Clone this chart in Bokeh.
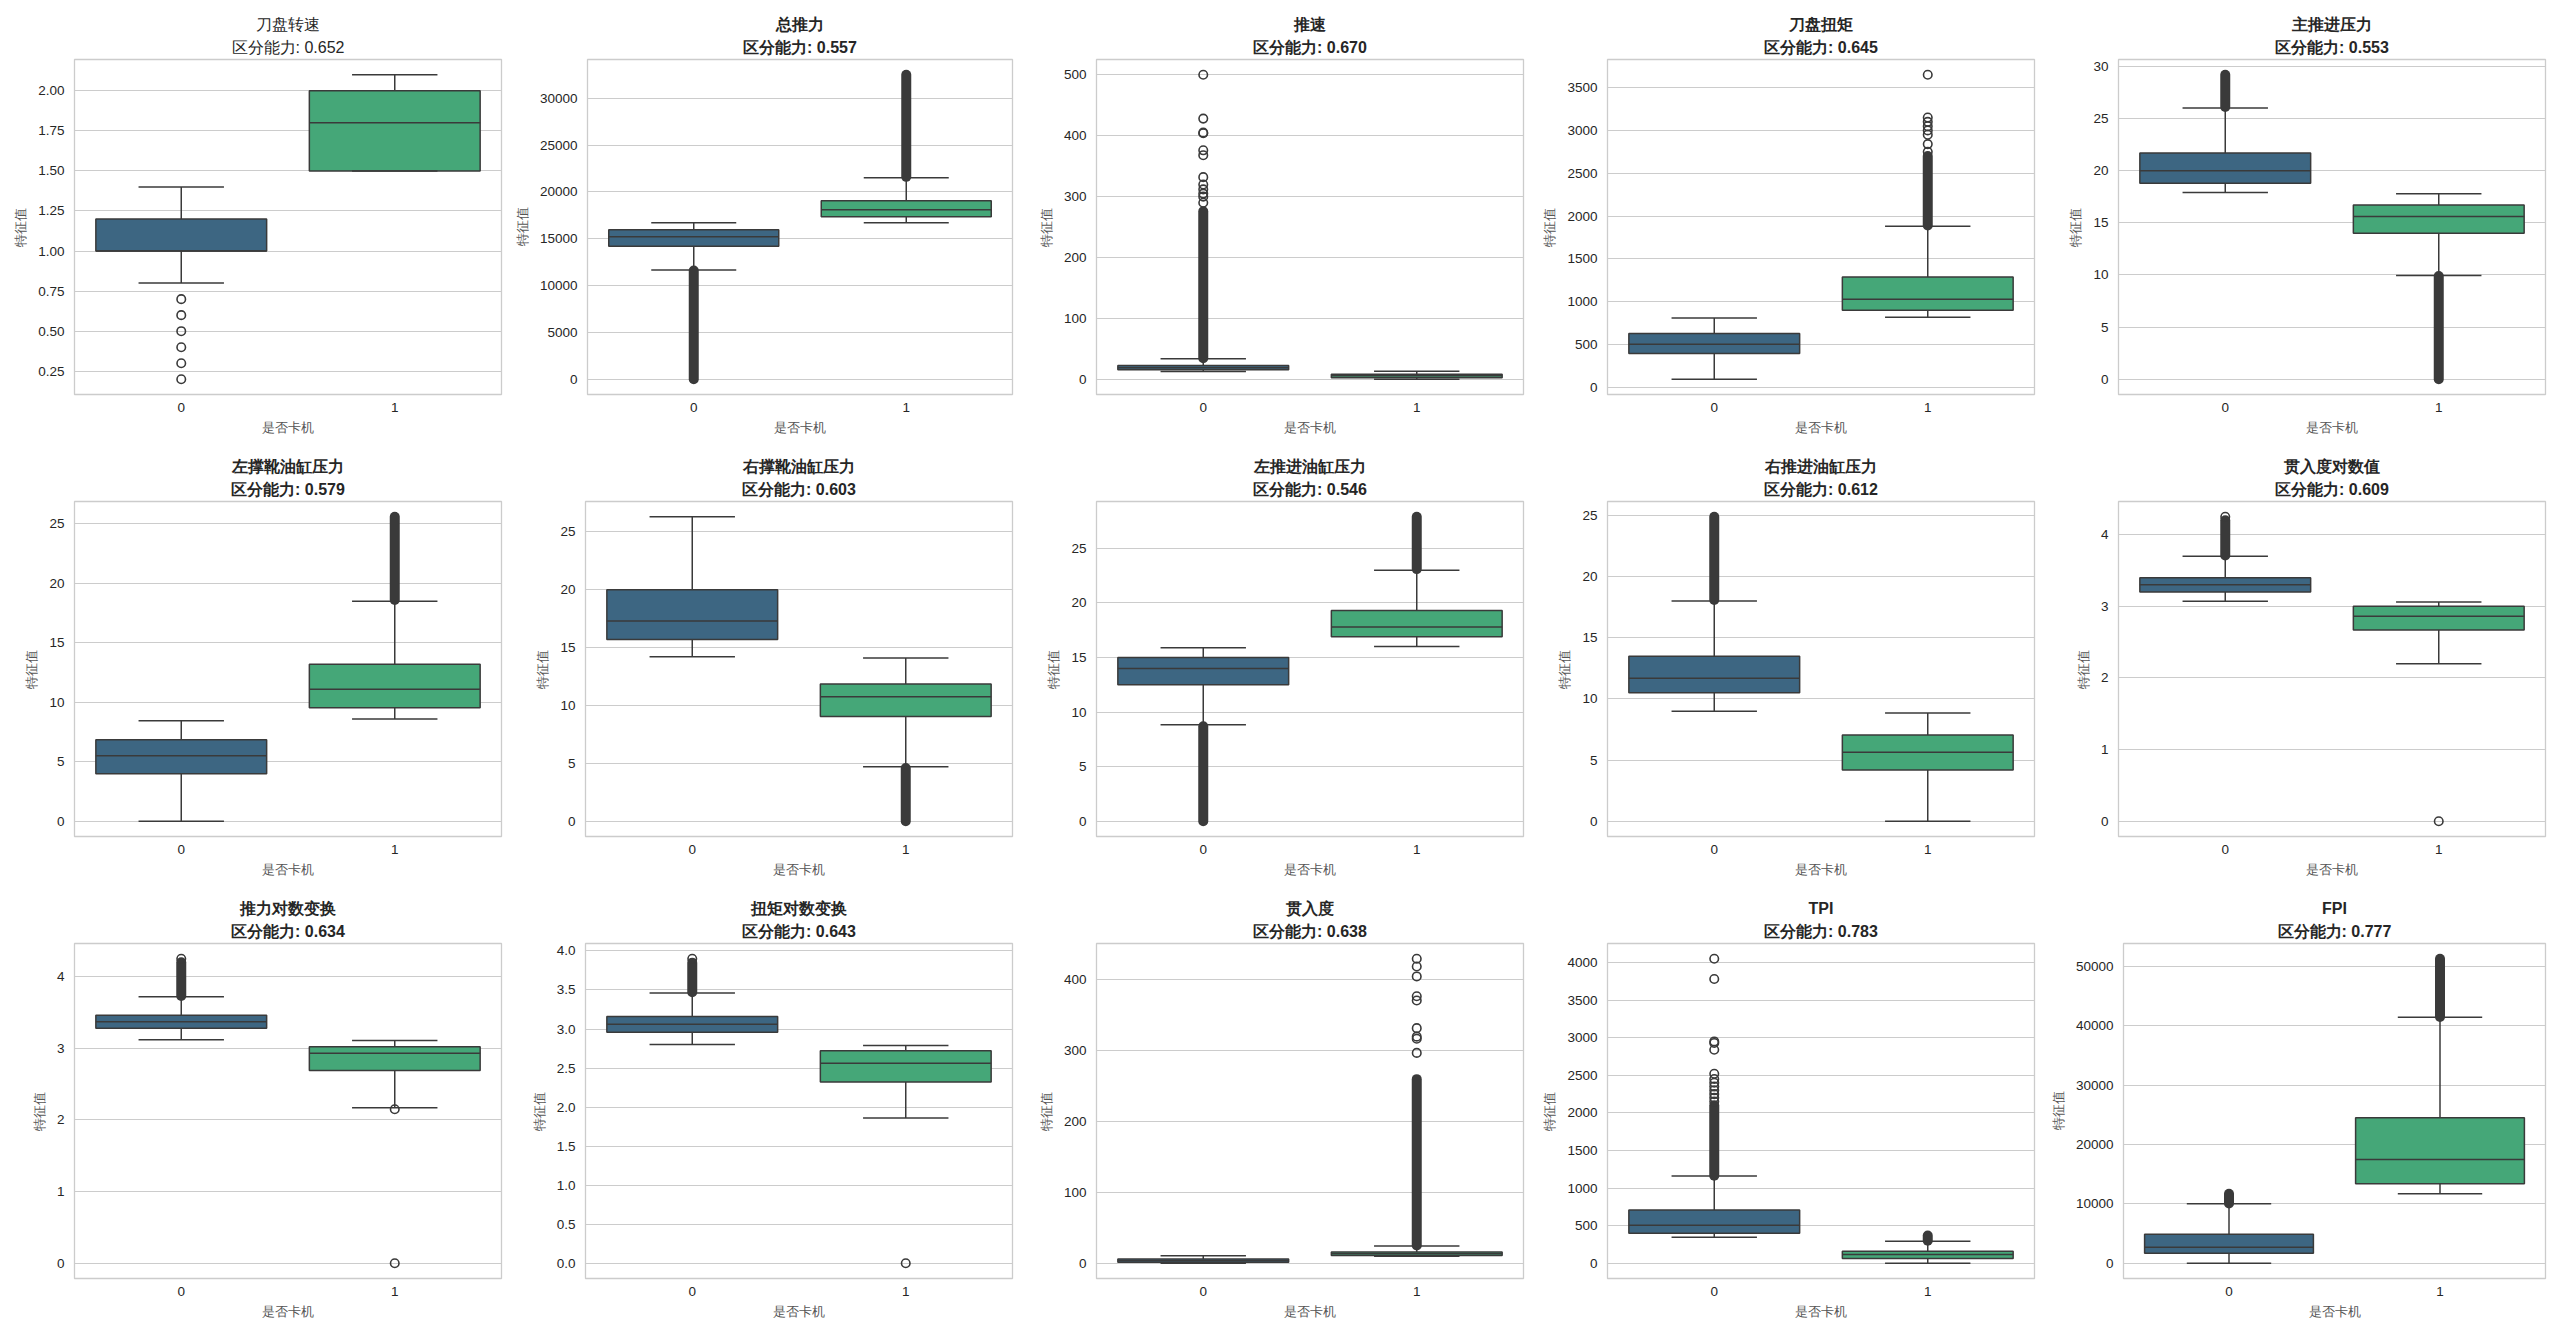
from bokeh.plotting import figure
from bokeh.layouts import column, row
from bokeh.models import Range1d, FixedTicker, Title
from bokeh.embed import file_html
from bokeh.resources import INLINE

# ---------------- data ----------------
features = ["刀盘转速", "总推力", "推速", "刀盘扭矩", "主推进压力",
            "左撑靴油缸压力", "右撑靴油缸压力", "左推进油缸压力", "右推进油缸压力", "贯入度对数值",
            "推力对数变换", "扭矩对数变换", "贯入度", "TPI", "FPI"]
scores = [0.652, 0.557, 0.670, 0.645, 0.553,
          0.579, 0.603, 0.546, 0.612, 0.609,
          0.634, 0.643, 0.638, 0.783, 0.777]
classes = ["0", "1"]
score_label = "区分能力"
x_label = "是否卡机"
y_label = "特征值"

# class 0 box statistics
low_0 = [0.8, 11650, 13, 95, 17.9, 0, 14.2, 8.85, 9.0, 3.07, 3.12, 2.80, 0, 347, 0]
q1_0 = [1.0, 14200, 16, 395, 18.8, 4.0, 15.7, 12.5, 10.5, 3.20, 3.28, 2.96, 1.5, 400, 1700]
med_0 = [1.0, 15200, 19.5, 505, 20.0, 5.5, 17.3, 14.0, 11.7, 3.30, 3.37, 3.06, 3.5, 507, 2700]
q3_0 = [1.2, 15950, 23, 630, 21.7, 6.85, 20.0, 15.0, 13.5, 3.40, 3.46, 3.16, 6, 707, 4900]
high_0 = [1.4, 16700, 34, 810, 26.0, 8.45, 26.3, 15.9, 18.0, 3.70, 3.72, 3.46, 10.5, 1160, 10000]
# class 1 box statistics
low_1 = [1.5, 16700, 0.4, 820, 9.95, 8.6, 4.7, 16.0, 0, 2.20, 2.17, 1.86, 10, 0, 11700]
q1_1 = [1.5, 17350, 3, 900, 14.0, 9.55, 9.05, 16.9, 4.2, 2.67, 2.69, 2.32, 11, 62, 13400]
med_1 = [1.8, 18100, 6, 1030, 15.6, 11.1, 10.75, 17.8, 5.65, 2.86, 2.93, 2.56, 13.5, 116, 17450]
q3_1 = [2.0, 19050, 8.5, 1290, 16.7, 13.2, 11.85, 19.3, 7.05, 3.00, 3.02, 2.72, 16, 160, 24500]
high_1 = [2.1, 21500, 13.5, 1880, 17.8, 18.5, 14.1, 23.0, 8.85, 3.06, 3.11, 2.79, 24.5, 293, 41400]

# runs of outliers so dense they merge into one solid column: (from, to)
dense_0 = [None, (0, 11600), (35, 276), None, (26.1, 29.2),
           None, None, (0, 8.7), (18.1, 24.9), (3.71, 4.2),
           (3.73, 4.2), (3.47, 3.85), None, (1165, 2100), (10050, 11700)]
dense_1 = [None, (21600, 32500), None, (1890, 2700), (0, 9.9),
           (18.6, 25.6), (0, 4.6), (23.1, 27.9), None, None,
           None, None, (25, 260), (300, 370), (41450, 51250)]
# separate outliers
sparse_0 = [[0.7, 0.6, 0.5, 0.4, 0.3, 0.2], [],
            [290, 300, 305, 312, 320, 332, 368, 376, 404, 405, 428, 500],
            [], [], [], [], [], [], [4.25], [4.25], [3.9], [],
            [2150, 2200, 2250, 2300, 2350, 2400, 2450, 2520, 2840, 2930, 2950, 3780, 4050], []]
sparse_1 = [[], [], [], [2750, 2840, 2950, 3000, 3050, 3100, 3150, 3650],
            [], [], [], [], [], [0.0], [2.15, 0.0], [0.0],
            [297, 317, 320, 332, 371, 377, 405, 419, 430], [], []]

yticks = [[0.25, 0.5, 0.75, 1.0, 1.25, 1.5, 1.75, 2.0],
          [0, 5000, 10000, 15000, 20000, 25000, 30000],
          [0, 100, 200, 300, 400, 500],
          [0, 500, 1000, 1500, 2000, 2500, 3000, 3500],
          [0, 5, 10, 15, 20, 25, 30],
          [0, 5, 10, 15, 20, 25],
          [0, 5, 10, 15, 20, 25],
          [0, 5, 10, 15, 20, 25],
          [0, 5, 10, 15, 20, 25],
          [0, 1, 2, 3, 4],
          [0, 1, 2, 3, 4],
          [0.0, 0.5, 1.0, 1.5, 2.0, 2.5, 3.0, 3.5, 4.0],
          [0, 100, 200, 300, 400],
          [0, 500, 1000, 1500, 2000, 2500, 3000, 3500, 4000],
          [0, 10000, 20000, 30000, 40000, 50000]]
# decimals shown on each panel's y tick labels
ytick_decimals = [2, 0, 0, 0, 0, 0, 0, 0, 0, 0, 0, 1, 0, 0, 0]

# ---------------- style ----------------
FILL = ["#3d6682", "#45a778"]
LINE = "#3a3a3a"
GRID = "#cccccc"
TXT = "#262626"
FONT = "Liberation Sans"

CELL_W = 512
ROW_H = [442, 442, 459]
BOTTOM = [48, 48, 65]
LEFT = [74, 73, 72, 71, 70]
FRAME_W = 427


def make_panel(i):
    r, c = divmod(i, 5)
    stats = [(low_0[i], q1_0[i], med_0[i], q3_0[i], high_0[i]),
             (low_1[i], q1_1[i], med_1[i], q3_1[i], high_1[i])]
    dense = [dense_0[i], dense_1[i]]
    sparse = [sparse_0[i], sparse_1[i]]

    vals = []
    for k in range(2):
        vals += [stats[k][0], stats[k][4]] + list(sparse[k])
        if dense[k]:
            vals += list(dense[k])
    lo, hi = min(vals), max(vals)
    pad = (hi - lo) * 0.05

    p = figure(width=CELL_W, height=ROW_H[r], output_backend="svg",
               toolbar_location=None, x_range=Range1d(-0.5, 1.5),
               y_range=Range1d(lo - pad, hi + pad),
               min_border_left=LEFT[c], min_border_right=CELL_W - LEFT[c] - FRAME_W,
               min_border_top=59, min_border_bottom=BOTTOM[r],
               background_fill_color="white", border_fill_color="white")
    p.outline_line_color = GRID
    p.outline_line_width = 1.3
    p.xgrid.visible = False
    p.ygrid.grid_line_color = GRID
    p.ygrid.grid_line_width = 1.2

    weight = "normal" if i == 0 else "bold"
    p.add_layout(Title(text=f"{score_label}: {scores[i]:.3f}", align="center",
                       text_font=FONT, text_font_size="16px", text_font_style=weight,
                       text_color=TXT, standoff=8, text_line_height=0.95), "above")
    p.add_layout(Title(text=features[i], align="center",
                       text_font=FONT, text_font_size="16px", text_font_style=weight,
                       text_color=TXT, standoff=0, text_line_height=0.95), "above")

    for ax in (p.xaxis, p.yaxis):
        ax.axis_line_color = None
        ax.major_tick_line_color = None
        ax.minor_tick_line_color = None
        ax.major_tick_out = 0
        ax.major_tick_in = 0
        ax.major_label_text_font = FONT
        ax.major_label_text_font_size = "13.5px"
        ax.major_label_text_color = TXT
        ax.axis_label_text_font = FONT
        ax.axis_label_text_font_size = "12.5px"
        ax.axis_label_text_font_style = "normal"
        ax.axis_label_text_color = "#555555"
    p.xaxis.ticker = FixedTicker(ticks=[0, 1])
    p.xaxis.major_label_overrides = {0: classes[0], 1: classes[1]}
    p.xaxis.axis_label = x_label
    p.xaxis.major_label_standoff = 8
    p.xaxis.axis_label_standoff = 6
    p.yaxis.ticker = FixedTicker(ticks=yticks[i])
    d = ytick_decimals[i]
    p.yaxis.major_label_overrides = {t: f"{t:.{d}f}" for t in yticks[i]}
    p.yaxis.axis_label = y_label
    p.yaxis.major_label_standoff = 10
    p.yaxis.axis_label_standoff = 7

    for k in range(2):
        w_lo, q1, md, q3, w_hi = stats[k]
        x = k
        # whiskers
        p.segment(x0=[x, x], y0=[w_lo, q3], x1=[x, x], y1=[q1, w_hi],
                  line_color=LINE, line_width=1.5)
        # box
        p.quad(left=[x - 0.4], right=[x + 0.4], bottom=[q1], top=[q3],
               fill_color=FILL[k], line_color=LINE, line_width=1.5)
        # median
        p.segment(x0=[x - 0.4], y0=[md], x1=[x + 0.4], y1=[md],
                  line_color=LINE, line_width=1.5)
        # caps
        p.segment(x0=[x - 0.2, x - 0.2], y0=[w_lo, w_hi], x1=[x + 0.2, x + 0.2],
                  y1=[w_lo, w_hi], line_color=LINE, line_width=1.5)
        # dense outlier runs
        if dense[k]:
            p.segment(x0=[x], y0=[dense[k][0]], x1=[x], y1=[dense[k][1]],
                      line_color=LINE, line_width=10, line_cap="round")
        if sparse[k]:
            p.scatter(x=[x] * len(sparse[k]), y=sparse[k], marker="circle", size=8.5,
                      fill_color=None, line_color=LINE, line_width=1.6)
    return p


panels = [make_panel(i) for i in range(15)]
layout = column(*[row(*panels[r * 5:(r + 1) * 5]) for r in range(3)])

open("out.html", "w").write(file_html(layout, INLINE))
